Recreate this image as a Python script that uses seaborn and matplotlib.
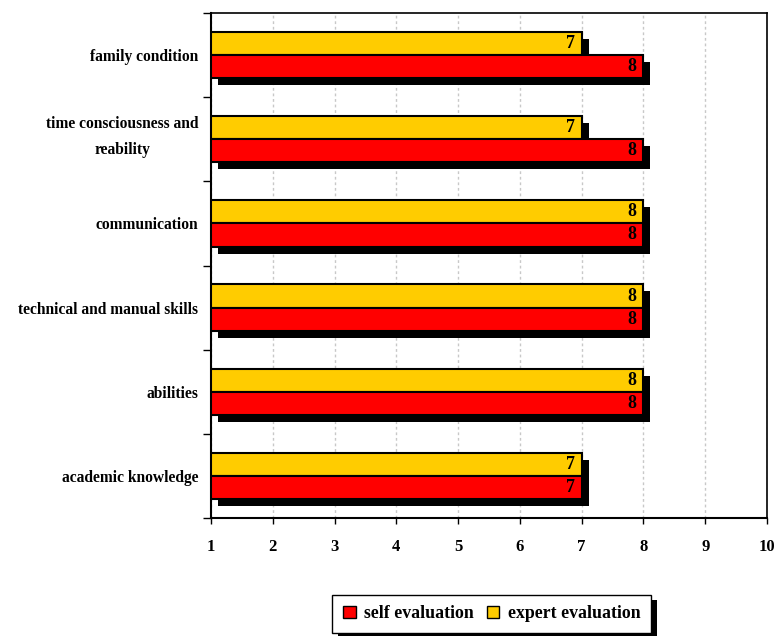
import matplotlib
matplotlib.use("Agg")
import matplotlib.pyplot as plt
import matplotlib.patheffects as pe
from matplotlib.patches import Patch
from matplotlib.transforms import ScaledTranslation
import numpy as np
import pandas as pd
import seaborn as sns

# Survey scores per competence area
categories = [
    "family condition",
    "time consciousness and\nreability",
    "communication",
    "technical and manual skills",
    "abilities",
    "academic knowledge",
]
self_eval = [8, 8, 8, 8, 8, 7]
expert_eval = [7, 7, 8, 8, 8, 7]
series_names = ["self evaluation", "expert evaluation"]
series_colors = ["#FF0000", "#FFCC00"]
x_ticks = list(range(1, 11))

sns.set_style("white")
plt.rcParams["font.family"] = ["Liberation Serif", "DejaVu Serif"]
plt.rcParams["font.weight"] = "bold"
for key in ["text.color", "xtick.color", "ytick.color", "axes.labelcolor"]:
    plt.rcParams[key] = "black"

df = pd.DataFrame({
    "category": categories * 2,
    "score": self_eval + expert_eval,
    "series": [series_names[0]] * len(categories) + [series_names[1]] * len(categories),
})

fig = plt.figure(figsize=(7.77, 6.36), dpi=100)
ax = fig.add_axes([211 / 777, 1 - 518 / 636, 556 / 777, 505 / 636])

palette = dict(zip(series_names, series_colors))
sns.barplot(
    data=df, y="category", x="score", hue="series",
    hue_order=[series_names[1], series_names[0]],
    order=categories, palette=palette, orient="h",
    width=0.55, edgecolor="black", linewidth=1.5,
    saturation=1, legend=False, ax=ax, zorder=3,
)

# Bars start where the value axis crosses (at 1), with a drop shadow
shadow = [pe.SimplePatchShadow(offset=(5, -5), shadow_rgbFace="black", alpha=1.0), pe.Normal()]
for p in ax.patches:
    value = p.get_width()
    p.set_x(1)
    p.set_width(value - 1)
    p.set_path_effects(shadow)
    ax.annotate(
        f"{value:g}", xy=(value, p.get_y() + p.get_height() / 2),
        xytext=(-5, 0), textcoords="offset points",
        ha="right", va="center", fontsize=13, fontweight="bold", zorder=5,
    )

ax.set_xlim(1, 10)
ax.set_ylim(5.5, -0.5)
ax.set_xticks(x_ticks)
ax.set_xlabel("")
ax.set_ylabel("")

ax.set_axisbelow(True)
ax.xaxis.grid(True, linestyle=(0, (2, 2)), color="#c8c8c8", linewidth=1)
ax.yaxis.grid(False)

ax.set_yticks(np.arange(-0.5, len(categories), 1), minor=True)
ax.tick_params(axis="y", which="minor", length=6, width=1, direction="out", left=True)
ax.tick_params(axis="y", which="major", length=0, pad=9, labelsize=11.2)
ax.tick_params(axis="x", which="major", length=4, width=1, direction="out",
               bottom=True, pad=11, labelsize=12)
for lbl in ax.get_yticklabels():
    lbl.set_multialignment("center")
    lbl.set_linespacing(1.9)
    if "\n" in lbl.get_text():
        # two-line label sits a little above the category centre
        lbl.set_transform(lbl.get_transform() + ScaledTranslation(0, 7 / 72, fig.dpi_scale_trans))

for side in ["left", "bottom"]:
    ax.spines[side].set_linewidth(1.5)
for side in ["top", "right"]:
    ax.spines[side].set_linewidth(1.2)
for s in ax.spines.values():
    s.set_color("black")

handles = [Patch(facecolor=c, edgecolor="black", linewidth=1) for c in series_colors]
leg = fig.legend(
    handles, series_names, loc="center", bbox_to_anchor=(0.633, 0.035),
    ncol=2, frameon=True, fancybox=False, edgecolor="black", framealpha=1,
    facecolor="white",
    handlelength=0.7, handleheight=0.7, columnspacing=0.7, handletextpad=0.5,
    borderpad=0.6, prop={"weight": "bold", "size": 12.8},
)
leg.get_frame().set_linewidth(1)
leg.get_frame().set_path_effects(
    [pe.SimplePatchShadow(offset=(4, -4), shadow_rgbFace="black", alpha=1.0), pe.Normal()]
)

fig.savefig("out.png", dpi=100)
